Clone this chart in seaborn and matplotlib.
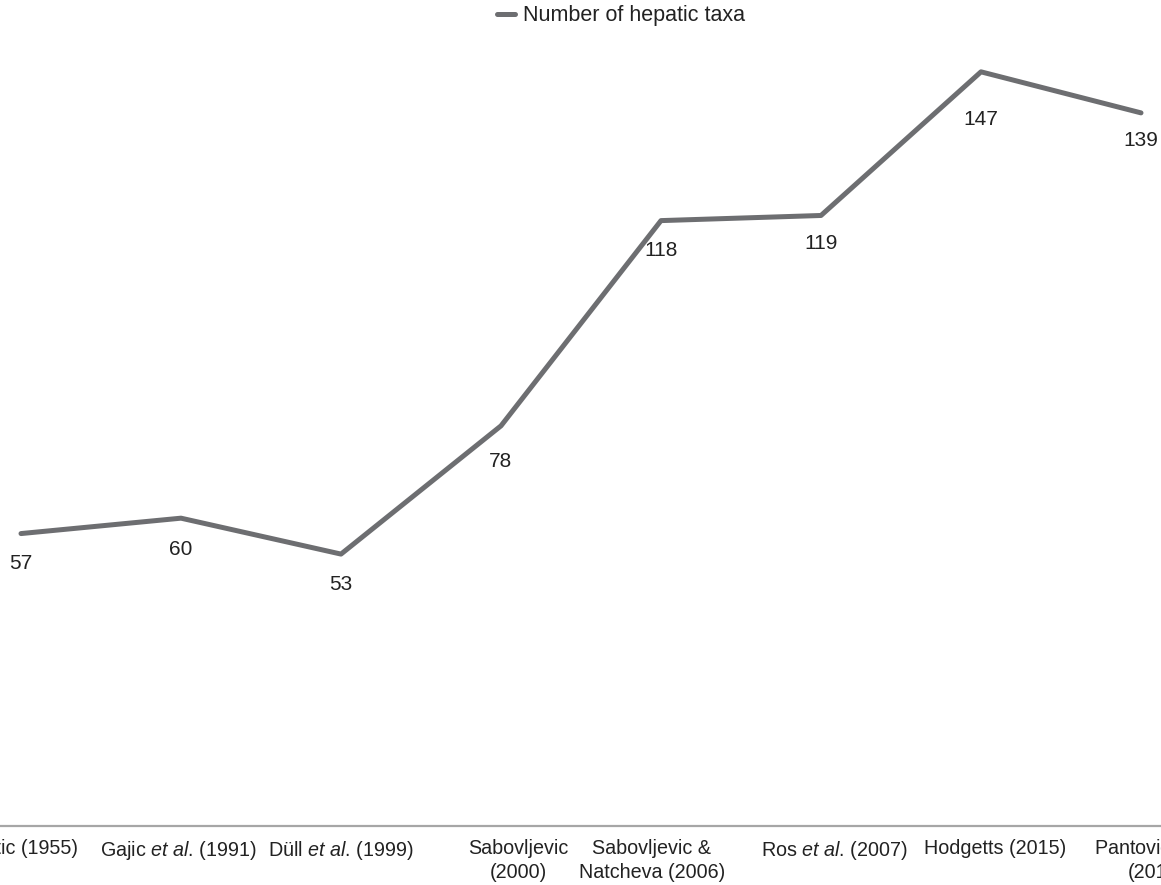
import numpy as np
import pandas as pd
import matplotlib
import matplotlib.pyplot as plt
import matplotlib.transforms as mtransforms
import seaborn as sns

# data
labels = [
    'Pavletic (1955)',
    r'Gajic $\it{et\ al}$. (1991)',
    r'Düll $\it{et\ al}$. (1999)',
    'Sabovljevic\n(2000)',
    'Sabovljevic &\nNatcheva (2006)',
    r'Ros $\it{et\ al}$. (2007)',
    'Hodgetts (2015)',
    r'Pantovic $\it{et\ al}$.' + '\n(2017)',
]
taxa = [57, 60, 53, 78, 118, 119, 147, 139]

# layout tweaks (pixels) for the tick labels and value labels
tick_shift = [-9, -3, 0, 17, -9, 13, 14, 15]
value_drop = [30, 31, 30, 36, 30, 28, 48, 28]

sns.set_theme(style='white')
plt.rcParams['font.family'] = ['Liberation Sans', 'DejaVu Sans']
plt.rcParams['mathtext.fontset'] = 'custom'
plt.rcParams['mathtext.rm'] = 'Liberation Sans'
plt.rcParams['mathtext.it'] = 'Liberation Sans:italic'

df = pd.DataFrame({'pos': np.arange(len(taxa)), 'taxa': taxa})

fig = plt.figure(figsize=(11.61, 8.85), dpi=100)
ax = fig.add_axes([0, 59 / 885, 1, 826 / 885])

line_color = '#6d6e71'
sns.lineplot(data=df, x='pos', y='taxa', ax=ax, color=line_color,
             linewidth=3.6, label='Number of hepatic taxa', legend=False)

ax.set_xlim(-21 / 160, (1161 - 21) / 160)
ax.set_ylim(0, 161)

# data labels below the points
for i, v in enumerate(taxa):
    ax.annotate(str(v), (i, v), xytext=(0, -value_drop[i]),
                textcoords='offset pixels',
                ha='center', va='center', fontsize=15, color='#222222')

ax.set_xticks(df['pos'])
ax.set_xticklabels(labels, fontsize=14.2, color='#222222', linespacing=1.35)
ax.tick_params(axis='x', length=0, pad=9)
ax.set_yticks([])
ax.set_xlabel('')
ax.set_ylabel('')
for t, dx in zip(ax.get_xticklabels(), tick_shift):
    shift = mtransforms.ScaledTranslation(dx / 100, 0, fig.dpi_scale_trans)
    t.set_transform(t.get_transform() + shift)

for s in ['left', 'right', 'top']:
    ax.spines[s].set_visible(False)
ax.spines['bottom'].set_color('#a6a6a6')
ax.spines['bottom'].set_linewidth(1.6)

h, l = ax.get_legend_handles_labels()
fig.legend(h, l, loc='center left', bbox_to_anchor=(497 / 1161, 1 - 16 / 885),
           frameon=False, fontsize=15.5, handlelength=0.85, handletextpad=0.35,
           borderpad=0, borderaxespad=0, labelcolor='#222222')

fig.savefig('out.png', dpi=100)
